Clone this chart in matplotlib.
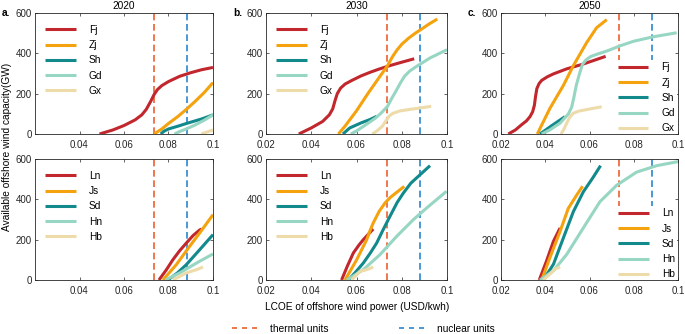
import matplotlib
matplotlib.use('Agg')
import matplotlib.pyplot as plt
from matplotlib.lines import Line2D

plt.rcParams.update({
    'font.family': ['Liberation Sans', 'DejaVu Sans'],
    'font.size': 7,
    'axes.linewidth': 0.6,
    'axes.edgecolor': '#262626',
    'xtick.direction': 'in',
    'ytick.direction': 'in',
    'xtick.top': True,
    'ytick.right': True,
    'xtick.major.size': 2.5,
    'ytick.major.size': 2.5,
    'xtick.major.width': 0.5,
    'ytick.major.width': 0.5,
    'xtick.major.pad': 4.3,
    'ytick.major.pad': 2.5,
})

# LCOE threshold lines (USD/kwh)
THERMAL = 0.0735
NUCLEAR = 0.0881

YEARS = ['2020', '2030', '2050']
TOP_NAMES = ['Fj', 'Zj', 'Sh', 'Gd', 'Gx']
BOT_NAMES = ['Ln', 'Js', 'Sd', 'Hn', 'Hb']
COLORS = ['#C1272D', '#F4A20E', '#12898B', '#97D6C2', '#EDDBAA']

# supply curves: (LCOE, capacity GW)
fj_2020 = [(0.049, 0), (0.055, 20), (0.060, 42), (0.065, 70), (0.068, 95), (0.070, 122),
           (0.072, 162), (0.0735, 195), (0.075, 220), (0.077, 240), (0.080, 260),
           (0.085, 286), (0.090, 304), (0.095, 319), (0.100, 330)]
zj_2020 = [(0.0735, 0), (0.077, 25), (0.080, 52), (0.084, 85), (0.088, 122),
           (0.092, 162), (0.096, 205), (0.100, 255)]
sh_2020 = [(0.0765, 0), (0.078, 14), (0.080, 25), (0.084, 38), (0.088, 52),
           (0.095, 75), (0.100, 95)]
gd_2020 = [(0.0827, 0), (0.085, 12), (0.088, 25), (0.092, 45), (0.096, 68), (0.100, 95)]
gx_2020 = [(0.0947, 0), (0.100, 20)]

fj_2030 = [(0.0345, 0), (0.040, 30), (0.045, 62), (0.048, 95), (0.0495, 125),
           (0.0505, 165), (0.0515, 200), (0.053, 228), (0.055, 248), (0.058, 266),
           (0.062, 288), (0.066, 306), (0.070, 322), (0.075, 340), (0.080, 356),
           (0.0855, 373)]
zj_2030 = [(0.052, 0), (0.055, 40), (0.060, 115), (0.065, 200), (0.070, 280),
           (0.0735, 335), (0.076, 385), (0.078, 418), (0.080, 445), (0.083, 475),
           (0.086, 500), (0.089, 522), (0.092, 545), (0.0957, 570)]
sh_2030 = [(0.054, 0), (0.057, 30), (0.062, 55), (0.066, 72), (0.069, 88)]
gd_2030 = [(0.0575, 0), (0.060, 15), (0.064, 45), (0.0684, 79), (0.071, 105),
           (0.0737, 137), (0.0755, 175), (0.0774, 212), (0.0795, 255), (0.0812, 286),
           (0.0835, 312), (0.0865, 335), (0.0925, 377), (0.100, 418)]
gx_2030 = [(0.067, 0), (0.069, 15), (0.0714, 38), (0.073, 65), (0.0744, 88),
           (0.076, 102), (0.079, 114), (0.083, 121), (0.088, 129), (0.093, 137)]

fj_2050 = [(0.0233, 0), (0.0265, 20), (0.0293, 46), (0.0315, 65), (0.0331, 86),
           (0.0343, 110), (0.0351, 143), (0.0356, 185), (0.0362, 225), (0.0372, 250),
           (0.0384, 266), (0.041, 284), (0.0437, 298), (0.0497, 323), (0.0572, 347),
           (0.0673, 385)]
zj_2050 = [(0.0364, 0), (0.0421, 127), (0.0482, 241), (0.0527, 339), (0.0587, 453),
           (0.0632, 527), (0.0678, 567)]
sh_2050 = [(0.0376, 0), (0.0430, 42), (0.0489, 86)]
gd_2050 = [(0.0384, 0), (0.042, 20), (0.0467, 54), (0.0505, 100), (0.052, 135),
           (0.053, 185), (0.054, 240), (0.0555, 300), (0.0568, 345), (0.0585, 368),
           (0.0605, 384), (0.0635, 396), (0.068, 412), (0.074, 438), (0.080, 460),
           (0.0888, 482), (0.0994, 502)]
gx_2050 = [(0.0471, 0), (0.0485, 25), (0.0497, 54), (0.051, 82), (0.0527, 103),
           (0.055, 113), (0.0587, 121), (0.0655, 135)]

ln_2020 = [(0.0757, 0), (0.079, 50), (0.082, 101), (0.085, 145), (0.088, 183),
           (0.091, 220), (0.094, 248), (0.095, 253)]
js_2020 = [(0.0775, 0), (0.0835, 76), (0.0895, 167), (0.094, 233), (0.100, 324)]
sd_2020 = [(0.0797, 0), (0.084, 35), (0.088, 76), (0.094, 150), (0.100, 225)]
hn_2020 = [(0.0785, 0), (0.085, 35), (0.094, 93), (0.100, 129)]
hb_2020 = [(0.082, 0), (0.088, 35), (0.0925, 51), (0.0955, 64)]

ln_2030 = [(0.0534, 0), (0.056, 70), (0.0586, 134), (0.061, 172), (0.063, 200),
           (0.0674, 253)]
js_2030 = [(0.0549, 0), (0.0575, 50), (0.0601, 101), (0.0625, 155), (0.0645, 200),
           (0.066, 245), (0.0674, 283), (0.070, 340), (0.0726, 382), (0.075, 410),
           (0.0778, 435), (0.0811, 464)]
sd_2030 = [(0.0564, 0), (0.0595, 38), (0.063, 84), (0.066, 132), (0.0689, 183),
           (0.0718, 250), (0.0748, 316), (0.078, 385), (0.0807, 431), (0.084, 480),
           (0.0881, 522), (0.0925, 567)]
hn_2030 = [(0.0557, 0), (0.063, 51), (0.0704, 126), (0.0778, 217), (0.0851, 299),
           (0.091, 357), (0.0998, 440)]
hb_2030 = [(0.0579, 0), (0.0615, 43), (0.0645, 51), (0.0674, 64)]

ln_2050 = [(0.0373, 0), (0.0406, 95), (0.0437, 192), (0.0467, 258)]
js_2050 = [(0.0384, 0), (0.0421, 111), (0.0467, 241), (0.0504, 355), (0.0542, 421),
           (0.0569, 465)]
sd_2050 = [(0.0391, 0), (0.0437, 78), (0.0482, 209), (0.0527, 339), (0.0572, 437),
           (0.0617, 510), (0.065, 567)]
hn_2050 = [(0.0376, 0), (0.0437, 46), (0.0497, 127), (0.0572, 258), (0.0647, 388),
           (0.0723, 470), (0.0813, 535), (0.0904, 567), (0.100, 587)]
hb_2050 = [(0.0391, 0), (0.0421, 29), (0.0444, 54), (0.0467, 65)]

TOP = [[fj_2020, zj_2020, sh_2020, gd_2020, gx_2020],
       [fj_2030, zj_2030, sh_2030, gd_2030, gx_2030],
       [fj_2050, zj_2050, sh_2050, gd_2050, gx_2050]]
BOT = [[ln_2020, js_2020, sd_2020, hn_2020, hb_2020],
       [ln_2030, js_2030, sd_2030, hn_2030, hb_2030],
       [ln_2050, js_2050, sd_2050, hn_2050, hb_2050]]

W, H = 685, 334
fig = plt.figure(figsize=(W / 100, H / 100), dpi=100)

# axes boxes in pixels: (left, right)
cols = [(35, 213), (266, 447), (501, 678)]
rows = [(13, 134), (159, 280)]


def px_axes(l, r, t, b):
    return fig.add_axes([l / W, (H - b) / H, (r - l) / W, (b - t) / H])


def draw_panel(ax, series, names, legend_loc):
    ax.axvline(THERMAL, color='#EC5F2E', lw=1.2, dashes=(4, 2.2), zorder=1)
    ax.axvline(NUCLEAR, color='#2B86CF', lw=1.2, dashes=(4, 2.2), zorder=1)
    for pts, name, c in zip(series, names, COLORS):
        xs = [p[0] for p in pts]
        ys = [p[1] for p in pts]
        ax.plot(xs, ys, color=c, lw=2.2, label=name, solid_capstyle='butt',
                solid_joinstyle='round', zorder=3)
    ax.set_xlim(0.02, 0.1)
    ax.set_ylim(0, 600)
    ax.set_yticks([0, 200, 400, 600])
    ax.tick_params(labelsize=7, colors='#262626')
    if legend_loc == 'upper left':
        leg = ax.legend(loc='upper left', bbox_to_anchor=(0.0, 0.985), frameon=False,
                        handlelength=3.0, handletextpad=1.3, labelspacing=0.52,
                        borderaxespad=0.6, fontsize=7.3)
    else:
        leg = ax.legend(loc='lower right', bbox_to_anchor=(1.0, -0.02), frameon=True,
                        handlelength=3.0, handletextpad=1.3, labelspacing=0.52,
                        borderaxespad=0.1, fontsize=7.3, borderpad=0.2)
        leg.get_frame().set_facecolor('white')
        leg.get_frame().set_edgecolor('none')
        leg.get_frame().set_alpha(1)
    leg.set_zorder(2)


for j in range(3):
    l, r = cols[j]
    ax_t = px_axes(l, r, rows[0][0], rows[0][1])
    ax_b = px_axes(l, r, rows[1][0], rows[1][1])
    loc = 'lower right' if j == 2 else 'upper left'
    draw_panel(ax_t, TOP[j], TOP_NAMES, loc)
    draw_panel(ax_b, BOT[j], BOT_NAMES, loc)
    if j == 0:
        for ax in (ax_t, ax_b):
            ax.set_xticks([0.04, 0.06, 0.08, 0.1])
            ax.set_xticklabels(['0.04', '0.06', '0.08', '0.1'])
    else:
        for ax in (ax_t, ax_b):
            ax.set_xticks([0.02, 0.04, 0.06, 0.08, 0.1])
            ax.set_xticklabels(['0.02', '0.04', '0.06', '0.08', '0.1'])
    ax_t.set_title(YEARS[j], fontsize=7.3, pad=3)
    fig.text((l - 33) / W, 1 - 13 / H, 'abc'[j] + '.', fontsize=7.3,
             fontweight='bold', va='center', ha='left')

fig.text(7 / W, 1 - 147 / H, 'Available offshore wind capacity(GW)', rotation=90,
         fontsize=7.3, ha='center', va='center')
fig.text(357 / W, 1 - 307 / H, 'LCOE of offshore wind power (USD/kwh)',
         fontsize=7.3, ha='center', va='center')

handles = [Line2D([], [], color='#EC5F2E', lw=1.2, dashes=(3, 3)),
           Line2D([], [], color='#2B86CF', lw=1.2, dashes=(3, 3))]
fig.legend(handles, ['thermal units', 'nuclear units'], loc='center left',
           bbox_to_anchor=(228 / W, 1 - 329 / H), ncol=2, frameon=False,
           fontsize=7.3, handlelength=2.6, handletextpad=1.1, columnspacing=7.0,
           borderaxespad=0)

fig.savefig('out.png', dpi=100)
